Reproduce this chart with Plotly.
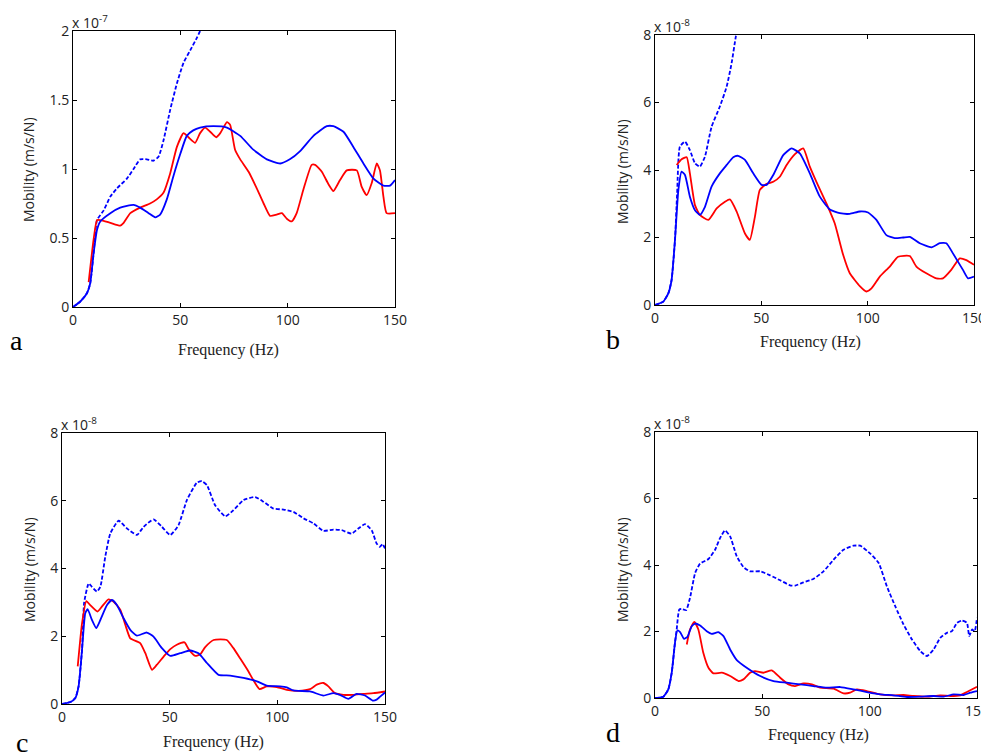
import plotly.graph_objects as go

# ---------------- data (mantissa units: panel a x1e-7, panels b-d x1e-8) ----------------
# Panel a
a_blue_f = [0, 3.4, 6.5, 8, 9.6, 11.2, 12.7, 17.4, 22, 28.2, 31.3, 35.2, 38.3, 40.6, 43.7, 46.8, 50, 53, 56, 59.2,
            65.4, 71.7, 77.9, 84, 90.3, 96.5, 101, 105.8, 112, 118.2, 121.3, 126, 130.6, 135.3, 140, 144.6, 147.7, 150]
a_blue_v = [0, 0.04, 0.1, 0.17, 0.39, 0.56, 0.62, 0.68, 0.72, 0.74, 0.72, 0.68, 0.65, 0.67, 0.78, 0.95, 1.11, 1.24, 1.28, 1.30,
            1.31, 1.30, 1.24, 1.14, 1.07, 1.04, 1.07, 1.13, 1.24, 1.31, 1.31, 1.27, 1.16, 1.04, 0.93, 0.88, 0.88, 0.92]
a_dash_f = [0, 3.4, 6.5, 8, 9.6, 11.2, 14.3, 17.4, 20.5, 25.1, 28.2, 31.3, 34.4, 37.5, 39.9, 42.2, 45.3, 48.4, 51.5,
            54.6, 57.7, 59.2, 62, 65]
a_dash_v = [0, 0.04, 0.1, 0.17, 0.39, 0.63, 0.70, 0.80, 0.86, 0.93, 1.00, 1.07, 1.07, 1.06, 1.09, 1.21, 1.43, 1.62, 1.77,
            1.86, 1.95, 2.0, 2.08, 2.18]
a_red_f = [7.3, 9.6, 11.2, 12.7, 17.4, 22, 23.6, 26.7, 31.3, 35.9, 39, 42.2, 45.3, 48.4, 51.5, 53.8, 56.9, 59.2, 61.6,
           63.9, 66.7, 68.6, 71.7, 73.2, 75.5, 77.9, 81.8, 85.6, 88.8, 91.8, 94.9, 97.3, 99.6, 101.9, 104.2, 107.3,
           111.2, 112.8, 115.9, 119, 121.3, 124.4, 127.5, 132.2, 134.5, 136.8, 139.2, 141.5, 143, 144.6, 146.1, 150]
a_red_v = [0.18, 0.49, 0.63, 0.63, 0.61, 0.59, 0.61, 0.68, 0.72, 0.75, 0.78, 0.83, 0.97, 1.16, 1.26, 1.23, 1.19, 1.26, 1.30,
           1.27, 1.23, 1.26, 1.34, 1.32, 1.14, 1.07, 0.98, 0.86, 0.75, 0.66, 0.67, 0.68, 0.64, 0.62, 0.68, 0.85,
           1.03, 1.03, 0.98, 0.89, 0.84, 0.92, 0.99, 0.99, 0.87, 0.81, 0.90, 1.04, 0.99, 0.80, 0.68, 0.68]

# Panel b
b_blue_f = [0, 3.9, 6.3, 7.8, 9.4, 11, 12.5, 14.1, 16.4, 18.8, 21.1, 23.5, 26.6, 30.5, 33.7, 36.8, 39.1, 42.3, 46.2, 50.1,
            52.5, 55.6, 60.3, 64.2, 68.1, 72.8, 77.5, 82.2, 86.9, 91.6, 96.3, 100.2, 104.1, 108.8, 112.7, 116.7, 119.8,
            124.5, 130, 133.9, 137, 140.1, 144.8, 147.2, 150]
b_blue_v = [0, 0.1, 0.35, 0.74, 1.93, 3.41, 3.95, 3.85, 3.21, 2.81, 2.67, 2.91, 3.51, 3.90, 4.15, 4.38, 4.42, 4.30, 3.90, 3.56,
            3.56, 3.85, 4.44, 4.64, 4.49, 3.90, 3.21, 2.83, 2.72, 2.70, 2.77, 2.74, 2.52, 2.07, 1.98, 2.0, 2.02,
            1.83, 1.71, 1.83, 1.83, 1.53, 1.04, 0.79, 0.84]
b_dash_f = [0, 3.9, 6.3, 7.8, 9.4, 10.4, 11.7, 14.1, 16.4, 18.8, 21.1, 23.5, 26.6, 30.5, 33.7, 36, 38, 40]
b_dash_v = [0, 0.1, 0.35, 0.74, 1.93, 3.3, 4.69, 4.84, 4.59, 4.20, 4.10, 4.40, 5.28, 5.88, 6.47, 7.16, 7.95, 8.6]
b_red_f = [10.2, 12.5, 14.9, 16.4, 18.8, 21.1, 25.1, 29, 32.9, 35.2, 38.4, 42.3, 44.6, 47, 49.3, 52.5, 55.6, 58.7, 61.9,
           65.8, 69.7, 72.8, 75.9, 80.6, 84.5, 88.5, 91.6, 96.3, 99.4, 101.8, 105.7, 110.4, 114.3, 119.8, 122.9,
           127.6, 132.3, 135.4, 139.3, 143.3, 146.4, 150]
b_red_v = [4.15, 4.32, 4.38, 3.90, 2.96, 2.67, 2.52, 2.86, 3.06, 3.13, 2.77, 2.12, 1.93, 2.62, 3.41, 3.59, 3.65, 3.80, 4.15,
           4.47, 4.64, 4.10, 3.65, 3.01, 2.42, 1.48, 0.94, 0.56, 0.40, 0.49, 0.84, 1.14, 1.43, 1.45, 1.14,
           0.94, 0.79, 0.79, 1.04, 1.38, 1.33, 1.19]

# Panel c
c_blue_f = [0, 3.9, 6.2, 7.7, 9.3, 10.8, 11.9, 13.9, 15.9, 17.8, 20.9, 23.2, 25.5, 28.6, 31.7, 34.8, 39.4, 42.5, 46.4, 50.3,
            54.9, 59.5, 63.4, 67.3, 72.7, 78.1, 84.3, 90.5, 95.1, 101.3, 104.4, 107.5, 115.2, 121.4, 126, 129.1, 133,
            136.8, 140.7, 144.5, 146.1, 147.6, 150]
c_blue_v = [0, 0.06, 0.18, 0.52, 1.6, 2.68, 2.80, 2.48, 2.24, 2.48, 2.92, 3.07, 2.92, 2.53, 2.19, 2.02, 2.11, 1.99, 1.65, 1.42,
            1.50, 1.58, 1.50, 1.21, 0.86, 0.84, 0.77, 0.67, 0.54, 0.52, 0.49, 0.40, 0.37, 0.25, 0.32, 0.27, 0.15,
            0.30, 0.25, 0.10, 0.13, 0.21, 0.34]
c_dash_f = [0, 3.9, 6.2, 7.7, 9.3, 10.3, 12.4, 13.9, 16.2, 17.8, 20.1, 22.4, 26.3, 30.2, 34.8, 37.9, 42.5, 46.4, 50.3, 54.1,
            58, 62.6, 64.9, 67.3, 71.1, 75.8, 79.6, 84.3, 89.7, 93.6, 98.2, 102.9, 107.5, 112.2, 116.8, 121.4, 126,
            129.9, 134.5, 137.6, 140.7, 143.8, 146.1, 147.6, 148.9, 150]
c_dash_v = [0, 0.06, 0.18, 0.52, 1.6, 3.0, 3.56, 3.46, 3.32, 3.46, 4.35, 5.03, 5.41, 5.18, 4.99, 5.23, 5.45, 5.23, 4.99, 5.28,
            6.02, 6.53, 6.58, 6.46, 5.87, 5.54, 5.72, 6.02, 6.11, 5.97, 5.77, 5.74, 5.67, 5.48, 5.33, 5.11, 5.15,
            5.13, 5.03, 5.18, 5.31, 5.13, 4.74, 4.64, 4.72, 4.59]
c_red_f = [7.3, 9.3, 11.3, 13.1, 16.5, 18.6, 21.6, 24, 27.1, 29.4, 31.7, 36.3, 38.7, 41.8, 44.1, 47.2, 50.3, 53.3, 56.9,
           58.8, 61.9, 64.2, 66.5, 70.4, 76.5, 79.6, 82.7, 86.6, 88.9, 91.7, 95.1, 99.8, 104.4, 109.8, 115.2, 118.3,
           121.4, 123.7, 126.8, 130.7, 135.3, 140, 144.6, 150]
c_red_v = [1.11, 2.38, 3.04, 2.92, 2.73, 2.88, 3.09, 3.02, 2.78, 2.34, 1.94, 1.80, 1.50, 1.01, 1.16, 1.40, 1.62, 1.75, 1.82,
           1.62, 1.42, 1.47, 1.68, 1.89, 1.89, 1.65, 1.35, 0.96, 0.70, 0.44, 0.52, 0.50, 0.42, 0.39, 0.44, 0.57,
           0.62, 0.52, 0.32, 0.27, 0.27, 0.30, 0.32, 0.37]

# Panel d
d_blue_f = [0, 3.9, 6.2, 7.8, 9.3, 10.4, 11.7, 13.5, 15.1, 17.1, 18.7, 21, 24.1, 26.4, 29.5, 31.9, 35, 38.1, 42.7, 49,
            55.2, 61.4, 67.6, 73.8, 80.1, 86.3, 92.5, 98.7, 104.9, 111.1, 117.4, 123.6, 129.8, 134.5, 139.1, 143.8,
            146.9, 150]
d_blue_v = [0, 0.04, 0.26, 0.76, 1.66, 2.03, 1.98, 1.78, 1.84, 2.16, 2.24, 2.18, 2.01, 1.93, 1.98, 1.86, 1.46, 1.14, 0.91, 0.66,
            0.51, 0.46, 0.41, 0.36, 0.31, 0.33, 0.26, 0.18, 0.11, 0.08, 0.03, 0.04, 0.06, 0.04, 0.11, 0.09,
            0.16, 0.21]
d_dash_f = [0, 3.9, 6.2, 7.8, 9.3, 10.1, 11.3, 12.4, 14.5, 16.3, 18.7, 21, 24.9, 28, 30.3, 32.6, 35, 38.1, 41.2, 44.3, 49,
            53.6, 58.3, 62.9, 65.3, 69.2, 73.8, 78.5, 83.2, 87.8, 92.5, 95.6, 100.3, 104.2, 108, 111.9, 115.8, 119.7,
            123.6, 126.7, 129.8, 132.9, 136, 138.3, 140.7, 143, 145.3, 146.4, 147.7, 148.9, 150]
d_dash_v = [0, 0.04, 0.26, 0.76, 1.66, 2.06, 2.66, 2.68, 2.64, 3.01, 3.76, 4.04, 4.18, 4.46, 4.81, 5.04, 4.86, 4.26, 3.94, 3.81, 3.81,
            3.69, 3.54, 3.39, 3.38, 3.48, 3.58, 3.81, 4.16, 4.46, 4.58, 4.58, 4.34, 4.06, 3.36, 2.76, 2.21, 1.76,
            1.41, 1.26, 1.46, 1.81, 1.96, 2.01, 2.26, 2.33, 2.26, 1.86, 2.06, 2.01, 2.41]
d_red_f = [14.8, 16.3, 18.3, 20.2, 22.5, 24.9, 27.2, 31.1, 35, 38.9, 41.2, 44.3, 46.6, 50.5, 54.4, 58.3, 62.2, 65.3, 69.2,
           73.1, 76.9, 83.2, 87.8, 90.9, 94, 98.7, 104.9, 111.1, 115.8, 120.5, 126.7, 132.9, 137.6, 142.2, 145.3, 150]
d_red_v = [1.61, 2.06, 2.29, 2.06, 1.36, 0.91, 0.74, 0.76, 0.66, 0.51, 0.56, 0.76, 0.81, 0.76, 0.83, 0.61, 0.41, 0.36, 0.44,
           0.41, 0.31, 0.28, 0.14, 0.16, 0.26, 0.21, 0.11, 0.08, 0.09, 0.06, 0.04, 0.08, 0.06, 0.08, 0.18, 0.34]

panel_letters = ["a", "b", "c", "d"]
exponents = ["-7", "-8", "-8", "-8"]
y_ranges = [[0, 2], [0, 8], [0, 8], [0, 8]]
y_dticks = [0.5, 2, 2, 2]
x_ticks = [0, 50, 100, 150]

# ---------------- layout geometry (page pixels of the 989x756 window) ----------------
PAGE_W, PAGE_H = 989, 756
OFF = 8                       # default body margin of the html page
W, H = PAGE_W - OFF, PAGE_H - OFF
boxes = [  # left, right, top, bottom (page pixels)
    (73, 395, 31, 307),
    (655, 974, 35, 305),
    (62, 385, 433, 704),
    (655, 977, 432, 698),
]
letter_pos = [(16, 340), (613, 339), (22, 742), (613, 732)]
xtitle_pos = [(228, 350), (810, 342), (213, 742), (818, 735)]
ytitle_pos = [(29, 170), (622, 172), (29, 570), (622, 570)]

def px(x):
    return (x - OFF) / W

def py(y):
    return 1 - (y - OFF) / H

BLUE = "#0000ff"
RED = "#ff0000"
SANS = "Open Sans, Liberation Sans, sans-serif"
SERIF = "Liberation Serif, Times New Roman, serif"
TICKFONT = dict(family=SANS, size=14, color="#222")
LW = 1.8

series = [
    (a_dash_f, a_dash_v, a_red_f, a_red_v, a_blue_f, a_blue_v),
    (b_dash_f, b_dash_v, b_red_f, b_red_v, b_blue_f, b_blue_v),
    (c_dash_f, c_dash_v, c_red_f, c_red_v, c_blue_f, c_blue_v),
    (d_dash_f, d_dash_v, d_red_f, d_red_v, d_blue_f, d_blue_v),
]

fig = go.Figure()
annotations = []
layout = dict(
    template="none",
    width=W, height=H, margin=dict(l=0, r=0, t=0, b=0, autoexpand=False),
    paper_bgcolor="white", plot_bgcolor="white", showlegend=False,
)

for i, (df, dv, rf, rv, bf, bv) in enumerate(series):
    n = "" if i == 0 else str(i + 1)
    xa, ya = "x" + n, "y" + n
    fig.add_trace(go.Scatter(x=df, y=dv, mode="lines", xaxis=xa, yaxis=ya,
                             line=dict(color=BLUE, width=LW, dash="4px,2px", shape="spline", smoothing=0.5)))
    fig.add_trace(go.Scatter(x=rf, y=rv, mode="lines", xaxis=xa, yaxis=ya,
                             line=dict(color=RED, width=LW, shape="spline", smoothing=0.5)))
    fig.add_trace(go.Scatter(x=bf, y=bv, mode="lines", xaxis=xa, yaxis=ya,
                             line=dict(color=BLUE, width=LW, shape="spline", smoothing=0.5)))
    l, r, t, b = boxes[i]
    layout["xaxis" + n] = dict(
        domain=[px(l), px(r)], anchor=ya, range=[0, 150], tickvals=x_ticks,
        showline=True, mirror="ticks", linecolor="black", linewidth=1,
        ticks="inside", ticklen=4, tickcolor="black", showgrid=False, zeroline=False,
        tickfont=TICKFONT, automargin=False, ticklabelstandoff=0, ticklabeloverflow="allow",
    )
    layout["yaxis" + n] = dict(
        domain=[py(b), py(t)], anchor=xa, range=y_ranges[i], dtick=y_dticks[i], tick0=0,
        showline=True, mirror="ticks", linecolor="black", linewidth=1,
        ticks="inside", ticklen=4, tickcolor="black", showgrid=False, zeroline=False,
        tickfont=TICKFONT, automargin=False, ticklabeloverflow="allow",
    )
    # exponent label
    annotations.append(dict(
        x=px(l), y=py(t), xref="paper", yref="paper", xanchor="left", yanchor="bottom",
        text="x 10<sup>" + exponents[i] + "</sup>", showarrow=False,
        font=dict(family=SANS, size=14, color="#222"), yshift=-3, xshift=-3,
    ))
    # y title
    annotations.append(dict(
        x=px(ytitle_pos[i][0]), y=py(ytitle_pos[i][1]), xref="paper", yref="paper",
        xanchor="center", yanchor="middle", textangle=-90, text="Mobility (m/s/N)", showarrow=False,
        font=dict(family=SANS, size=14, color="#222"),
    ))
    # x title
    annotations.append(dict(
        x=px(xtitle_pos[i][0]), y=py(xtitle_pos[i][1]), xref="paper", yref="paper",
        xanchor="center", yanchor="middle", text="Frequency (Hz)", showarrow=False,
        font=dict(family=SERIF, size=16, color="#222"),
    ))
    # panel letter
    annotations.append(dict(
        x=px(letter_pos[i][0]), y=py(letter_pos[i][1]), xref="paper", yref="paper",
        xanchor="center", yanchor="middle", text=panel_letters[i], showarrow=False,
        font=dict(family=SERIF, size=28, color="black"),
    ))

layout["annotations"] = annotations
fig.update_layout(**layout)
fig.write_html("out.html")
